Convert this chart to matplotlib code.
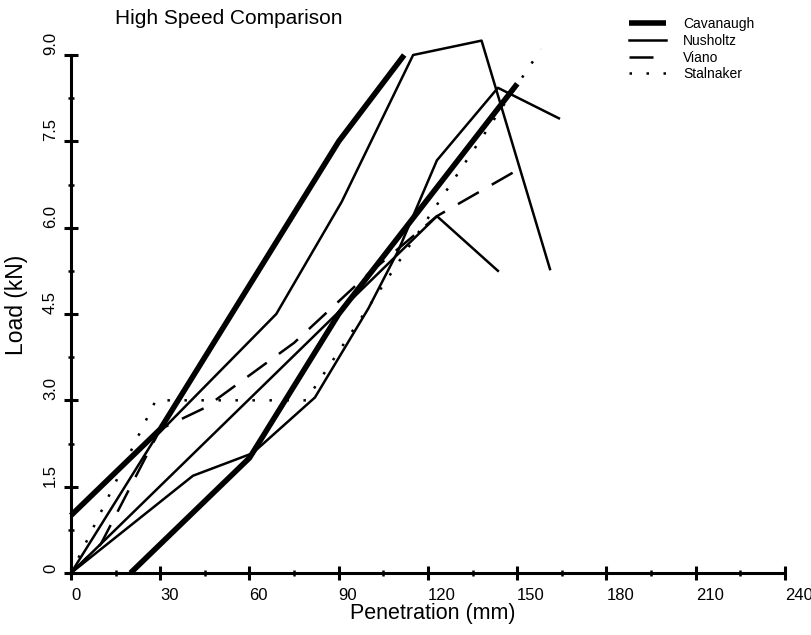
import matplotlib
matplotlib.use('Agg')
import matplotlib.pyplot as plt
from matplotlib.ticker import MultipleLocator

plt.rcParams['font.family'] = ['Liberation Sans Narrow', 'Liberation Sans', 'DejaVu Sans']

# ---- data (Penetration mm, Load kN) ----
cav1_x = [0, 30, 90, 112]
cav1_y = [1.0, 2.5, 7.5, 9.0]
cav2_x = [20, 60, 90, 150]
cav2_y = [0, 2.0, 4.5, 8.5]

nus1_x = [0, 29, 69, 91, 115, 138, 161]
nus1_y = [0, 2.4, 4.5, 6.45, 9.0, 9.25, 5.28]
nus2_x = [0, 41, 61, 82, 100, 110, 123, 143.5, 164]
nus2_y = [0, 1.69, 2.08, 3.05, 4.6, 5.6, 7.17, 8.43, 7.9]
nus3_x = [0, 123, 143.5]
nus3_y = [0, 6.2, 5.25]

viano_x = [0, 10, 30, 45, 75, 100, 123, 150]
viano_y = [0, 0.5, 2.5, 2.87, 4.0, 5.2, 6.2, 7.0]

stal_x = [0, 28.5, 79, 158]
stal_y = [0, 3.0, 3.0, 9.1]

x_ticks = [0, 30, 60, 90, 120, 150, 180, 210, 240]
x_tick_labels = ['0', '30', '60', '90', '120', '150', '180', '210', '240']
y_ticks = [0, 1.5, 3.0, 4.5, 6.0, 7.5, 9.0]
y_tick_labels = ['0', '1.5', '3.0', '4.5', '6.0', '7.5', '9.0']

W, H = 812, 635
fig = plt.figure(figsize=(W / 100, H / 100), dpi=100)
ax = fig.add_axes([71 / W, 1 - 573 / H, 714 / W, 518 / H])

thick = 4.0
med = 1.8

h_cav, = ax.plot(cav1_x, cav1_y, color='black', lw=thick, solid_capstyle='butt', label='Cavanaugh')
ax.plot(cav2_x, cav2_y, color='black', lw=thick, solid_capstyle='butt')

h_nus, = ax.plot(nus1_x, nus1_y, color='black', lw=med, label='Nusholtz')
ax.plot(nus2_x, nus2_y, color='black', lw=med)
ax.plot(nus3_x, nus3_y, color='black', lw=med)

h_via, = ax.plot(viano_x, viano_y, color='black', lw=med, dashes=(9.6, 6), label='Viano')
h_sta, = ax.plot(stal_x, stal_y, color='black', lw=med, dashes=(1, 5.8), label='Stalnaker')

for ln in ax.get_lines():
    ln.set_clip_on(False)

ax.set_xlim(0, 240)
ax.set_ylim(0, 9)
for s in ['top', 'right']:
    ax.spines[s].set_visible(False)
for s in ['left', 'bottom']:
    ax.spines[s].set_linewidth(2.2)

ax.set_xticks(x_ticks)
ax.set_xticklabels(x_tick_labels, ha='left')
ax.set_yticks(y_ticks)
ax.set_yticklabels(y_tick_labels, rotation=90, va='bottom', ha='right')
ax.xaxis.set_minor_locator(MultipleLocator(15))
ax.yaxis.set_minor_locator(MultipleLocator(0.75))
ax.tick_params(which='major', direction='inout', length=9.4, width=2.2, labelsize=12)
ax.tick_params(axis='x', which='major', pad=6)
ax.tick_params(axis='y', which='major', pad=4.7)
ax.tick_params(which='minor', direction='inout', length=5, width=1.8)

ax.set_xlabel('Penetration (mm)', fontsize=15.5)
ax.xaxis.set_label_coords(0.506, -0.058)
ax.set_ylabel('Load (kN)', fontsize=16.5)
ax.yaxis.set_label_coords(-0.060, 0.517)

fig.text(229 / W, 1 - 24 / H, 'High Speed Comparison', fontsize=15, ha='center', va='baseline')

fig.legend(handles=[h_cav, h_nus, h_via, h_sta], loc='upper left',
           bbox_to_anchor=(629 / W, 1 - 17 / H), frameon=False, fontsize=10,
           borderpad=0, borderaxespad=0, handlelength=2.66, handletextpad=1.22,
           labelspacing=0.2)

fig.savefig('out.png', dpi=100)
